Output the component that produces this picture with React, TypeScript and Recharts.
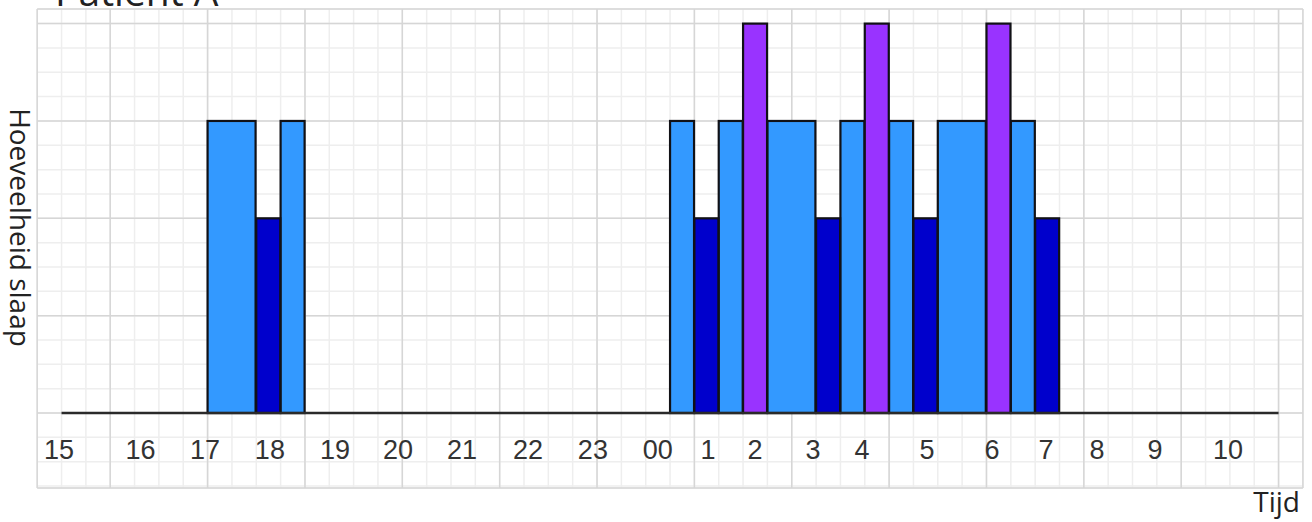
import React from "react";
import {
  ComposedChart,
  Bar,
  XAxis,
  YAxis,
  CartesianGrid,
  ReferenceLine,
} from "recharts";

// ---- data ----
const SLOT_COUNT = 52; // half-hour-ish slots across the time axis

const lightStart = [7, 10, 26, 28, 30, 33, 35, 37, 40];
const lightSpan = [2, 1, 1, 1, 2, 1, 1, 2, 1];
const lightLevel = [3, 3, 3, 3, 3, 3, 3, 3, 3];

const deepStart = [9, 27, 32, 36, 41];
const deepLevel = [2, 2, 2, 2, 2];

const remStart = [29, 34, 39];
const remLevel = [4, 4, 4];

const tickLabels = [
  "15", "16", "17", "18", "19", "20", "21", "22", "23", "00",
  "1", "2", "3", "4", "5", "6", "7", "8", "9", "10",
];
const tickPositions = [
  0.9, 4.24, 6.89, 9.56, 12.24, 14.82, 17.45, 20.16, 22.83, 25.5,
  27.56, 29.49, 31.87, 33.89, 36.56, 39.23, 41.45, 43.54, 45.92, 48.92,
];

const axisStart = 1;
const axisEnd = 51;

const xMinorTicks = Array.from({ length: SLOT_COUNT - 1 }, (_, i) => i + 1);
const xMajorTicks = Array.from({ length: 13 }, (_, i) => 3 + i * 4);
const yMinorTicks = Array.from({ length: 20 }, (_, i) => -0.75 + i * 0.25);
const yMajorTicks = [0, 1, 2, 3, 4];

type Row = {
  slot: number;
  light: number | null;
  deep: number | null;
  rem: number | null;
  span: number;
};

const rows: Row[] = Array.from({ length: SLOT_COUNT }, (_, i) => ({
  slot: i,
  light: null,
  deep: null,
  rem: null,
  span: 1,
}));
lightStart.forEach((s, i) => {
  rows[s].light = lightLevel[i];
  rows[s].span = lightSpan[i];
});
deepStart.forEach((s, i) => {
  rows[s].deep = deepLevel[i];
});
remStart.forEach((s, i) => {
  rows[s].rem = remLevel[i];
});

const STROKE = "#111116";
const PLOT_BOTTOM = 488;

const SpanBar = (props: any) => {
  const { x, y, width, height, fill, payload } = props;
  if (!height || height <= 0 || !width) return null;
  const span = payload && payload.span ? payload.span : 1;
  return (
    <rect
      x={x}
      y={y}
      width={width * span}
      height={height}
      fill={fill}
      stroke={STROKE}
      strokeWidth={2.2}
    />
  );
};

const TimeTick = (props: any) => {
  const { x, payload } = props;
  const idx = tickPositions.indexOf(payload.value);
  return (
    <text
      x={x}
      y={PLOT_BOTTOM - 29}
      textAnchor="middle"
      fontFamily="'Liberation Sans', Arial, sans-serif"
      fontSize={27}
      fill="#333"
    >
      {idx >= 0 ? tickLabels[idx] : ""}
    </text>
  );
};

export default function App() {
  const W = 1312;
  const H = 522;
  return (
    <div
      style={{
        position: "absolute",
        left: 0,
        top: 0,
        width: W,
        height: H,
        background: "#fff",
        overflow: "hidden",
      }}
    >
      <ComposedChart
        width={W}
        height={H}
        data={rows}
        margin={{ top: 9, right: 9.1, bottom: 0, left: 37.2 }}
        barCategoryGap={0}
        barGap={0}
      >
        <XAxis xAxisId="cat" dataKey="slot" type="category" hide />
        <XAxis
          xAxisId="minor"
          dataKey="slot"
          type="number"
          domain={[0, SLOT_COUNT]}
          ticks={xMinorTicks}
          allowDataOverflow
          hide
        />
        <XAxis
          xAxisId="major"
          dataKey="slot"
          type="number"
          domain={[0, SLOT_COUNT]}
          ticks={xMajorTicks}
          allowDataOverflow
          hide
        />
        <XAxis
          xAxisId="lbl"
          dataKey="slot"
          type="number"
          domain={[0, SLOT_COUNT]}
          ticks={tickPositions}
          allowDataOverflow
          interval={0}
          height={34}
          tickSize={0}
          tickMargin={0}
          tickLine={false}
          axisLine={false}
          tick={<TimeTick />}
        />
        <YAxis
          yAxisId="minor"
          type="number"
          domain={[-0.77, 4.15]}
          ticks={yMinorTicks}
          allowDataOverflow
          hide
        />
        <YAxis
          yAxisId="major"
          type="number"
          domain={[-0.77, 4.15]}
          ticks={yMajorTicks}
          allowDataOverflow
          hide
        />
        <CartesianGrid
          xAxisId="minor"
          yAxisId="minor"
          stroke="#eeeeee"
          strokeWidth={1.5}
        />
        <CartesianGrid
          xAxisId="major"
          yAxisId="major"
          stroke="#d6d6d6"
          strokeWidth={1.5}
        />
        <Bar
          xAxisId="cat"
          yAxisId="major"
          dataKey="light"
          stackId="s"
          fill="#3399ff"
          shape={SpanBar}
          isAnimationActive={false}
        />
        <Bar
          xAxisId="cat"
          yAxisId="major"
          dataKey="deep"
          stackId="s"
          fill="#0000cc"
          shape={SpanBar}
          isAnimationActive={false}
        />
        <Bar
          xAxisId="cat"
          yAxisId="major"
          dataKey="rem"
          stackId="s"
          fill="#9933ff"
          shape={SpanBar}
          isAnimationActive={false}
        />
        <ReferenceLine
          xAxisId="lbl"
          yAxisId="major"
          segment={[
            { x: axisStart, y: 0 },
            { x: axisEnd, y: 0 },
          ]}
          stroke="#2a2a2a"
          strokeWidth={2.5}
        />
      </ComposedChart>
      <svg
        width={W}
        height={H}
        style={{ position: "absolute", left: 0, top: 0, pointerEvents: "none" }}
      >
        <text
          x={55}
          y={6}
          fontFamily="'Open Sans', 'Noto Sans', sans-serif"
          fontSize={39}
          fill="#222"
        >
          Patient A
        </text>
        <text
          x={10}
          y={227.5}
          transform="rotate(90, 10, 227.5)"
          textAnchor="middle"
          fontFamily="'Open Sans', 'Noto Sans', sans-serif"
          fontSize={28}
          fill="#222"
        >
          Hoeveelheid slaap
        </text>
        <text
          x={1300}
          y={512}
          textAnchor="end"
          fontFamily="'Open Sans', 'Noto Sans', sans-serif"
          fontSize={28}
          fill="#222"
        >
          Tijd
        </text>
      </svg>
    </div>
  );
}
